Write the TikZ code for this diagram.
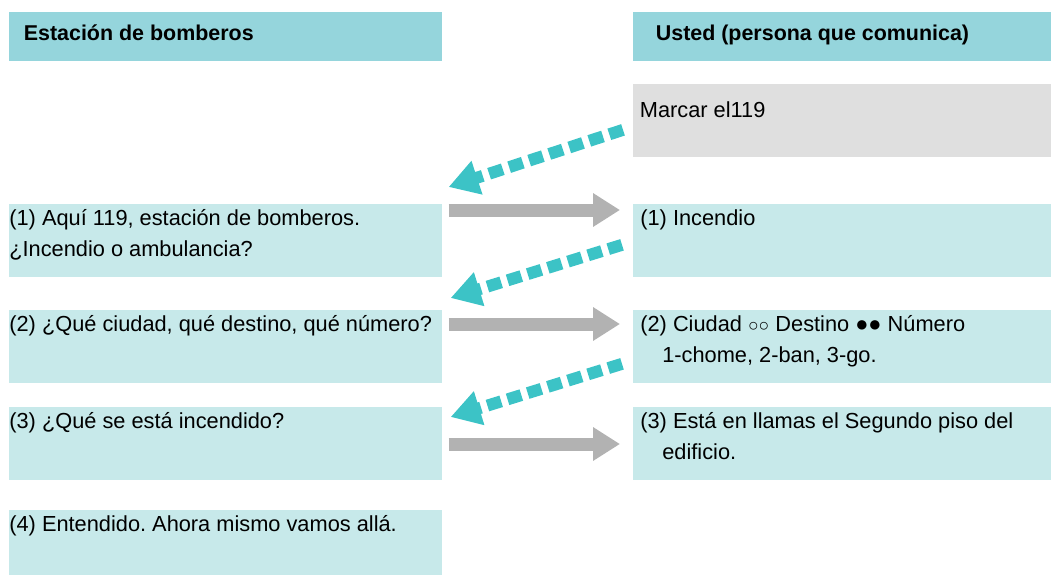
\documentclass[tikz,border=0pt]{standalone}
\usepackage{fontspec}
\setmainfont{Liberation Sans}
\usetikzlibrary{arrows.meta,calc}

\definecolor{headteal}{HTML}{95D5DC}
\definecolor{boxteal}{HTML}{C7E9EA}
\definecolor{callgray}{HTML}{DFDFDF}
\definecolor{dashteal}{HTML}{3CC3C6}
\definecolor{replygray}{HTML}{B2B2B2}

\frenchspacing

\begin{document}
\begin{tikzpicture}[x = 0.02cm, y = -0.02cm,
        box/.style = {anchor = north west, inner sep = 0, minimum height = 1.46cm},
        leftbox/.style = {box, fill = boxteal, minimum width = 8.66cm},
        rightbox/.style = {box, fill = boxteal, minimum width = 8.36cm},
        txt/.style = {anchor = base west, inner sep = 0, align = left},
        callarrow/.style = {draw = dashteal, line width = 6.8pt, dash pattern = on 8.2pt off 3.8pt,
            -{Triangle[length = 17pt, width = 19pt]}},
        replyarrow/.style = {draw = replygray, line width = 7.4pt,
            -{Triangle[length = 15.3pt, width = 18.1pt]}}]
            \useasboundingbox (0,0) rectangle (1051,575);
            % headers
            \node[box, fill = headteal, minimum width = 8.66cm, minimum height = 0.98cm] (hl) at (9,12) {};
            \node[box, fill = headteal, minimum width = 8.36cm, minimum height = 0.98cm] (hr) at (633,12) {};
            % boxes
            \node[box, fill = callgray, minimum width = 8.36cm] (call) at (633,84) {};
            \node[leftbox] (l1) at (9,204) {};
            \node[leftbox] (l2) at (9,310) {};
            \node[leftbox] (l3) at (9,407) {};
            \node[leftbox, minimum height = 1.3cm] (l4) at (9,510) {};
            \node[rightbox] (r1) at (633,204) {};
            \node[rightbox] (r2) at (633,310) {};
            \node[rightbox] (r3) at (633,407) {};
            \begin{scope}[every node/.append style = {font = \fontsize{12.4pt}{17.6pt}\selectfont}]
                \node[txt, font = \fontsize{12.2pt}{17.6pt}\selectfont\bfseries] (hl-t) at ($(hl.north west)+(14.5,28)$) {Estación de bomberos};
                \node[txt, font = \fontsize{12.2pt}{17.6pt}\selectfont\bfseries] (hr-t) at ($(hr.north west)+(22.5,28)$) {Usted (persona que comunica)};
                \node[txt] (call-t) at ($(call.north west)+(6.5,33)$) {Marcar el119};
                % two lines: base is the last line
                \node[txt] (l1-t) at ($(l1.north west)+(0,52)$) {(1) Aquí 119, estación de bomberos.\\¿Incendio o ambulancia?};
                \node[txt] (l2-t) at ($(l2.north west)+(0,21)$) {(2) ¿Qué ciudad, qué destino, qué número?};
                \node[txt] (l3-t) at ($(l3.north west)+(0,21)$) {(3) ¿Qué se está incendido?};
                \node[txt] (l4-t) at ($(l4.north west)+(0,21)$) {(4) Entendido. Ahora mismo vamos allá.};
                \node[txt] (r1-t) at ($(r1.north west)+(7,21)$) {(1) Incendio};
                \node[txt] (r2-t) at ($(r2.north west)+(7,52)$) {(2) Ciudad {\fontsize{10pt}{10pt}\selectfont ○○} Destino ●● Número\\\hspace*{12.5pt}1-chome, 2-ban, 3-go.};
                \node[txt] (r3-t) at ($(r3.north west)+(7,52)$) {(3) Está en llamas el Segundo piso del\\\hspace*{12.5pt}edificio.};
            \end{scope}
            % calls
            \draw[callarrow] ($(call.west)+(-10,9)$) -- ($(l1.north east)+(6,-17)$);
            \draw[callarrow] ($(r1.west)+(-11,4)$) -- ($(l2.north east)+(8,-12)$);
            \draw[callarrow] ($(r2.west)+(-11,17)$) -- ($(l3.north east)+(8,10)$);
            % replies
            \draw[replyarrow] ($(l1.north east)+(6,6)$) -- ($(r1.north west)+(-13,6)$);
            \draw[replyarrow] ($(l2.north east)+(6,14)$) -- ($(r2.north west)+(-13,14)$);
            \draw[replyarrow] ($(l3.north east)+(6,37)$) -- ($(r3.north west)+(-13,37)$);
\end{tikzpicture}
\end{document}
